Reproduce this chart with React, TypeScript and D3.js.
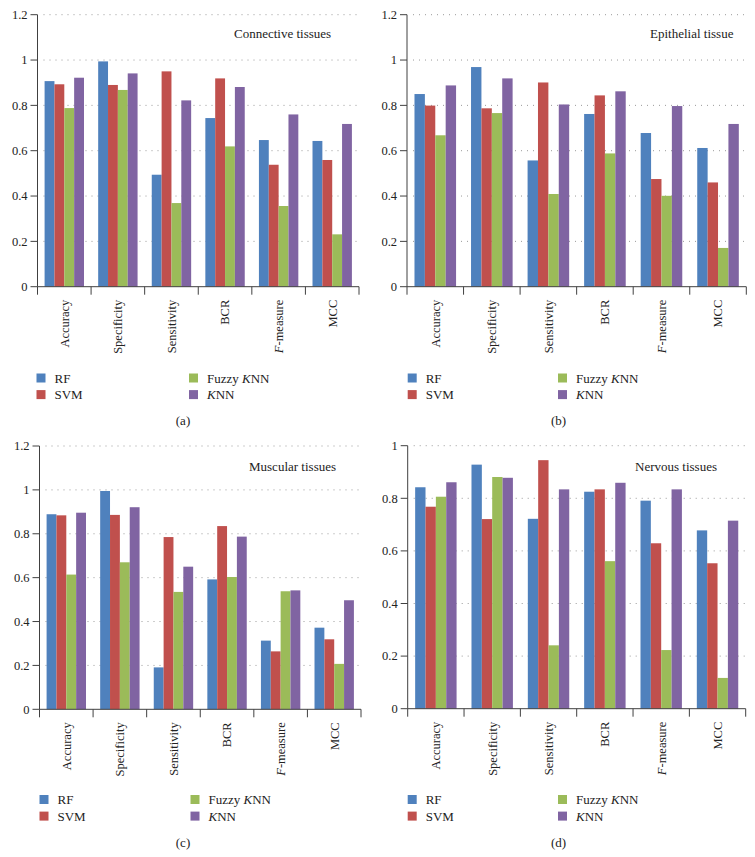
import React from "react";
import * as d3 from "d3";

const categories = ["Accuracy", "Specificity", "Sensitivity", "BCR", "F-measure", "MCC"];
const seriesNames = ["RF", "SVM", "Fuzzy KNN", "KNN"];
const seriesColors = ["#4F81BD", "#C0504D", "#9BBB59", "#8064A2"];

// values per series, ordered by categories
const connectiveRF = [0.907, 0.994, 0.494, 0.744, 0.647, 0.643];
const connectiveSVM = [0.893, 0.89, 0.95, 0.919, 0.538, 0.559];
const connectiveFuzzy = [0.788, 0.868, 0.369, 0.619, 0.356, 0.231];
const connectiveKNN = [0.922, 0.941, 0.822, 0.881, 0.76, 0.718];

const epithelialRF = [0.85, 0.969, 0.557, 0.762, 0.678, 0.612];
const epithelialSVM = [0.799, 0.787, 0.901, 0.844, 0.475, 0.46];
const epithelialFuzzy = [0.668, 0.766, 0.409, 0.588, 0.401, 0.171];
const epithelialKNN = [0.888, 0.919, 0.804, 0.862, 0.797, 0.718];

const muscularRF = [0.889, 0.995, 0.191, 0.592, 0.313, 0.372];
const muscularSVM = [0.884, 0.886, 0.785, 0.835, 0.264, 0.319];
const muscularFuzzy = [0.614, 0.67, 0.535, 0.603, 0.538, 0.207];
const muscularKNN = [0.896, 0.921, 0.65, 0.787, 0.542, 0.497];

const nervousRF = [0.842, 0.928, 0.722, 0.825, 0.791, 0.678];
const nervousSVM = [0.768, 0.721, 0.945, 0.834, 0.629, 0.553];
const nervousFuzzy = [0.806, 0.881, 0.241, 0.561, 0.223, 0.117];
const nervousKNN = [0.861, 0.878, 0.834, 0.859, 0.834, 0.715];

const titles = ["Connective tissues", "Epithelial tissue", "Muscular tissues", "Nervous tissues"];
const captions = ["(a)", "(b)", "(c)", "(d)"];
const yMaxes = [1.2, 1.2, 1.2, 1.0];

const panelData = [
  [connectiveRF, connectiveSVM, connectiveFuzzy, connectiveKNN],
  [epithelialRF, epithelialSVM, epithelialFuzzy, epithelialKNN],
  [muscularRF, muscularSVM, muscularFuzzy, muscularKNN],
  [nervousRF, nervousSVM, nervousFuzzy, nervousKNN],
];

// layout (positions only)
const layouts = [
  { x0: 37.5, x1: 359, yTop: 14.7, y0: 286.7, titleX: 234, titleY: 38, legX: 36.5, legX2: 189, legY: 378, capX: 183, capY: 425 },
  { x0: 407, x1: 746.3, yTop: 14.7, y0: 286.7, titleX: 650, titleY: 38, legX: 407.7, legX2: 558, legY: 378, capX: 558.5, capY: 425 },
  { x0: 39.5, x1: 361, yTop: 446, y0: 709.3, titleX: 249, titleY: 471, legX: 39.5, legX2: 190.5, legY: 799.5, capX: 183, capY: 847 },
  { x0: 407.7, x1: 745.7, yTop: 445.7, y0: 708.7, titleX: 635, titleY: 471, legX: 407.7, legX2: 558, legY: 799.5, capX: 558.5, capY: 847 },
];

const FONT = "'Liberation Serif', 'Times New Roman', serif";
const AXIS = "#404040";

function renderLabel(name: string) {
  if (name === "F-measure") {
    return (
      <>
        <tspan fontStyle="italic">F</tspan>
        <tspan>-measure</tspan>
      </>
    );
  }
  if (name === "Fuzzy KNN") {
    return (
      <>
        <tspan>Fuzzy </tspan>
        <tspan fontStyle="italic">K</tspan>
        <tspan>NN</tspan>
      </>
    );
  }
  if (name === "KNN") {
    return (
      <>
        <tspan fontStyle="italic">K</tspan>
        <tspan>NN</tspan>
      </>
    );
  }
  return name;
}

function Panel({ idx }: { idx: number }) {
  const L = layouts[idx];
  const data = panelData[idx];
  const yMax = yMaxes[idx];
  const y = d3.scaleLinear().domain([0, yMax]).range([L.y0, L.yTop]);
  const x = d3.scaleBand<string>().domain(categories).range([L.x0, L.x1]).paddingInner(0).paddingOuter(0);
  const xs = d3
    .scaleBand<string>()
    .domain(seriesNames)
    .range([0, x.bandwidth()])
    .paddingInner(0)
    .paddingOuter(0.72);
  const ticks = d3.range(0, yMax + 0.0001, 0.2).map((v) => +v.toFixed(1));
  const boundaries = categories.map((c) => x(c) as number).concat([L.x1]);

  return (
    <g>
      {/* gridlines */}
      {ticks
        .filter((t) => t > 0)
        .map((t) => (
          <line
            key={"g" + t}
            x1={L.x0 + 6}
            x2={L.x1}
            y1={y(t)}
            y2={y(t)}
            stroke="#9a9a9a"
            strokeWidth={1}
            strokeDasharray="1,5"
          />
        ))}
      {/* bars */}
      {categories.map((c, ci) =>
        seriesNames.map((s, si) => {
          const v = data[si][ci];
          return (
            <rect
              key={c + s}
              x={(x(c) as number) + (xs(s) as number)}
              y={y(v)}
              width={xs.bandwidth()}
              height={L.y0 - y(v)}
              fill={seriesColors[si]}
            />
          );
        })
      )}
      {/* y axis */}
      <line x1={L.x0} x2={L.x0} y1={L.yTop} y2={L.y0} stroke={AXIS} strokeWidth={1} />
      {ticks.map((t) => (
        <g key={"t" + t}>
          <line x1={L.x0 - 7} x2={L.x0} y1={y(t)} y2={y(t)} stroke={AXIS} strokeWidth={1} />
          <text
            x={L.x0 - 10}
            y={y(t)}
            dy="0.35em"
            textAnchor="end"
            fontFamily={FONT}
            fontSize={12.5}
            fill="#222"
          >
            {String(t)}
          </text>
        </g>
      ))}
      {/* x axis */}
      <line x1={L.x0} x2={L.x1} y1={L.y0} y2={L.y0} stroke={AXIS} strokeWidth={1} />
      {boundaries.map((b, i) => (
        <line key={"b" + i} x1={b} x2={b} y1={L.y0} y2={L.y0 + 8} stroke={AXIS} strokeWidth={1} />
      ))}
      {categories.map((c) => {
        const cx = (x(c) as number) + x.bandwidth() / 2;
        const ty = L.y0 + 13;
        return (
          <text
            key={"c" + c}
            transform={`translate(${cx},${ty}) rotate(-90)`}
            textAnchor="end"
            dy="0.35em"
            fontFamily={FONT}
            fontSize={12.5}
            fill="#222"
          >
            {renderLabel(c)}
          </text>
        );
      })}
      {/* title */}
      <text x={L.titleX} y={L.titleY} fontFamily={FONT} fontSize={13} fill="#222">
        {titles[idx]}
      </text>
      {/* legend */}
      {seriesNames.map((s, si) => {
        const col = si < 2 ? 0 : 1;
        const row = si % 2;
        const lx = col === 0 ? L.legX : L.legX2;
        const ly = L.legY + row * 16.6;
        return (
          <g key={"l" + s}>
            <rect x={lx} y={ly - 4.5} width={9} height={9} fill={seriesColors[si]} />
            <text x={lx + 18} y={ly} dy="0.35em" fontFamily={FONT} fontSize={13} fill="#222">
              {renderLabel(s)}
            </text>
          </g>
        );
      })}
      {/* caption */}
      <text x={L.capX} y={L.capY} textAnchor="middle" fontFamily={FONT} fontSize={13} fill="#222">
        {captions[idx]}
      </text>
    </g>
  );
}

export default function App() {
  return (
    <svg
      width={755}
      height={857}
      style={{ position: "absolute", left: 0, top: 0, background: "#fff" }}
    >
      <rect x={0} y={0} width={755} height={857} fill="#fff" />
      {[0, 1, 2, 3].map((i) => (
        <Panel key={i} idx={i} />
      ))}
    </svg>
  );
}
